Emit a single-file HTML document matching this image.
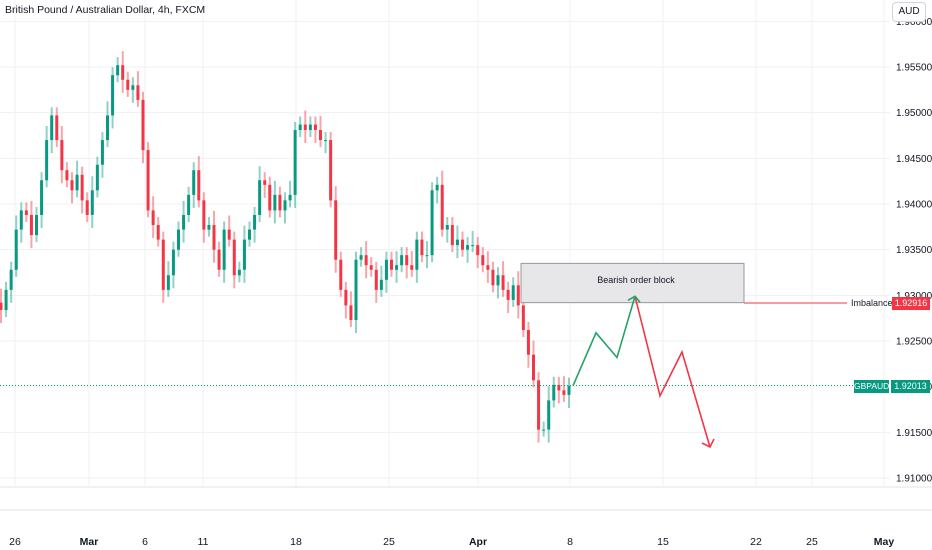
<!DOCTYPE html>
<html><head><meta charset="utf-8"><style>
html,body{margin:0;padding:0;background:#fff;}
body{width:932px;height:550px;overflow:hidden;font-family:"Liberation Sans",sans-serif;}
.tag{position:absolute;height:13px;color:#fff;font-size:9px;line-height:13px;text-align:center;white-space:nowrap;overflow:hidden;}
</style></head><body>
<svg id="c" width="932" height="550" xmlns="http://www.w3.org/2000/svg" style="font-family:'Liberation Sans',sans-serif;position:absolute;left:0;top:0">
<g id="grid"></g>
<g id="candles"></g>
<g id="draw"></g>
<g id="axes"></g>
</svg>
<script>
const closes=[1.9284,1.9306,1.9328,1.9372,1.9393,1.9388,1.9366,1.9388,1.9426,1.9470,1.9497,1.9470,1.9437,1.9426,1.9415,1.9432,1.9404,1.9388,1.9415,1.9443,1.9470,1.9497,1.9541,1.9552,1.9536,1.9525,1.9530,1.9514,1.9459,1.9393,1.9377,1.9361,1.9306,1.9322,1.9350,1.9372,1.9388,1.9410,1.9437,1.9404,1.9372,1.9377,1.9350,1.9328,1.9372,1.9361,1.9322,1.9328,1.9361,1.9372,1.9388,1.9426,1.9421,1.9393,1.9410,1.9393,1.9404,1.9410,1.9481,1.9487,1.9481,1.9487,1.9481,1.9470,1.9470,1.9404,1.9339,1.9306,1.9289,1.9273,1.9339,1.9344,1.9333,1.9328,1.9306,1.9317,1.9339,1.9328,1.9333,1.9344,1.9333,1.9328,1.9361,1.9344,1.9344,1.9415,1.9421,1.9372,1.9377,1.9355,1.9361,1.9350,1.9355,1.9355,1.9344,1.9333,1.9328,1.9311,1.9322,1.9306,1.9295,1.9311,1.9289,1.9262,1.9235,1.9207,1.9153,1.9153,1.9185,1.9202,1.9196,1.9191,1.9201];
const priceTicks=[1.96,1.955,1.95,1.945,1.94,1.935,1.93,1.925,1.92,1.915,1.91];
const priceTickLabels=["1.96000","1.95500","1.95000","1.94500","1.94000","1.93500","1.93000","1.92500","1.92000","1.91500","1.91000"];
const dateLabels=["26","Mar","6","11","18","25","Apr","8","15","22","25","May"];
const dateX=[15,89,145,203,296,389,478,570,663,756,812,884];
const projGreen=[1.9201,1.9259,1.9232,1.9299];
const projRed=[1.9299,1.9190,1.9238,1.9134];
const obTop=1.9335, obBot=1.9292, imbalance=1.92916, last=1.92013;
const wick=0.0011;
const NS='http://www.w3.org/2000/svg';
function y(p){return 67+(1.955-p)/0.005*45.67;}
function x(i){return 1+i*(568/(closes.length-1));}
function el(t,a,parent){const e=document.createElementNS(NS,t);for(const k in a)e.setAttribute(k,a[k]);parent.appendChild(e);return e;}
const G=document.getElementById('grid'),C=document.getElementById('candles'),D=document.getElementById('draw'),A=document.getElementById('axes');
priceTicks.forEach((p,i)=>{
 const l=el('line',{x1:0,x2:890,y1:y(p),y2:y(p),stroke:'#f0f1f3'},G);
 
 
 const t=el('text',{x:896,y:y(p)+3.5,'font-size':10,fill:'#131722'},A);
 t.textContent=priceTickLabels[i];
 
 
});
dateX.forEach((dx,i)=>{
 const l=el('line',{x1:dx,x2:dx,y1:0,y2:487,stroke:'#f0f1f3'},G);
 
 
 const t=el('text',{x:dx,y:545,'font-size':10.5,fill:'#131722','text-anchor':'middle','font-weight':(i==1||i==6||i==11)?'bold':'normal'},A);
 t.textContent=dateLabels[i];
 
 
});
el('line',{x1:0,x2:932,y1:487,y2:487,stroke:'#e0e3eb'},A);
el('line',{x1:0,x2:932,y1:510,y2:510,stroke:'#e0e3eb'},A);
const ob=el('rect',{x:521,y:y(obTop),width:223,height:y(obBot)-y(obTop),fill:'#e7e7ea',stroke:'#9598a1','stroke-width':1},D);


const obt=el('text',{x:636,y:(y(obTop)+y(obBot))/2,'font-size':9,fill:'#131722','text-anchor':'middle'},D);
obt.textContent='Bearish order block';


closes.forEach((c,i)=>{
 const o=i?closes[i-1]:c+0.0008;
 const up=c>=o;
 const col=up?'#089981':'#f23645';
 const hi=Math.max(o,c)+wick*(i%3==0?1.4:0.8), lo=Math.min(o,c)-wick*(i%2==0?1.3:0.7);
 const w=el('line',{x1:x(i),x2:x(i),y1:y(hi),y2:y(lo),stroke:col,'stroke-opacity':0.45,'stroke-width':2},C);
 
 
 const b=el('rect',{x:x(i)-1.5,y:y(Math.max(o,c)),width:3,height:Math.max(1,Math.abs(y(o)-y(c))),fill:col},C);
 
 
});
const imb=el('line',{x1:744,x2:847,y1:y(imbalance),y2:y(imbalance),stroke:'#f23645'},D);


const pl=el('line',{x1:0,x2:853,y1:y(last),y2:y(last),stroke:'#089981','stroke-dasharray':'1 2'},D);


const gp=el('polyline',{points:projGreen.map((p,k)=>[[573,596,617,635][k],y(p)].join(',')).join(' '),fill:'none',stroke:'#26a269','stroke-width':1.6},D);


const rp=el('polyline',{points:projRed.map((p,k)=>[[635,660,682,710][k],y(p)].join(',')).join(' '),fill:'none',stroke:'#f23645','stroke-width':1.6},D);


const ga=el('polyline',{points:`628,${y(projGreen[3])+4} 635,${y(projGreen[3])} 640,${y(projGreen[3])+6}`,fill:'none',stroke:'#26a269','stroke-width':1.6},D);


const ra=el('polyline',{points:`702,${y(projRed[3])-4} 710,${y(projRed[3])} 714,${y(projRed[3])-8}`,fill:'none',stroke:'#f23645','stroke-width':1.6},D);


</script>
<div style="position:absolute;left:5px;top:4px;font-size:10.5px;color:#131722;">British Pound / Australian Dollar, 4h, FXCM</div>
<div style="position:absolute;left:892px;top:2px;width:32px;height:18px;border:1px solid #d1d4dc;border-radius:4px;font-size:10px;line-height:18px;text-align:center;color:#131722;background:#fff;">AUD</div>
<div style="position:absolute;left:850px;top:297px;font-size:9px;line-height:13px;color:#131722;background:#fff;padding:0 1px;">Imbalance</div>
<div class="tag" style="left:892px;top:297px;width:38px;background:#f23645;">1.92916</div>
<div class="tag" style="left:854px;top:380px;width:35px;background:#089981;font-size:8.5px;">GBPAUD</div>
<div class="tag" style="left:891px;top:380px;width:39px;background:#089981;">1.92013</div>
</body></html>
